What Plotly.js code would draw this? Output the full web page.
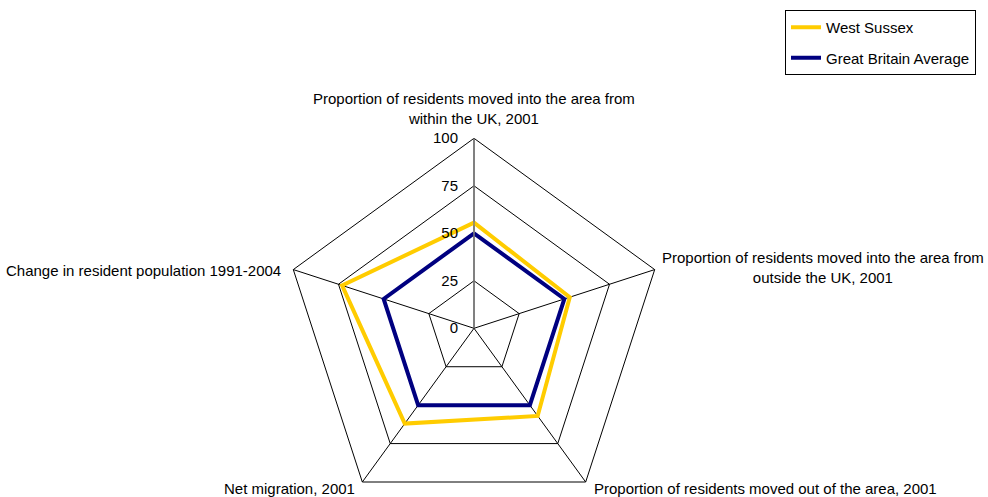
<!DOCTYPE html>
<html>
<head>
<meta charset="utf-8">
<script src="https://cdn.plot.ly/plotly-3.0.1.min.js"></script>
<style>
html, body { margin: 0; padding: 0; overflow: hidden; background: #fff; }
#chart { width: 988px; height: 600px; }
</style>
</head>
<body>
<div id="chart"></div>
<script>
var categories = [
  "Proportion of residents moved into the area from<br>within the UK, 2001",
  "Proportion of residents moved into the area from<br>outside the UK, 2001",
  "Proportion of residents moved out of the area, 2001",
  "Net migration, 2001",
  "Change in resident population 1991-2004"
];
var westSussex = [55.6, 53, 57, 62, 73];
var gbAverage = [50, 50, 50, 50, 50];
var radialTicks = [0, 25, 50, 75, 100];
var seriesNames = ["West Sussex", "Great Britain Average"];

var W = 988, H = 600;
var FONT = "Liberation Sans, Arial, sans-serif";
var FS = 15;
function px(x) { return x / W; }
function py(y) { return 1 - y / H; }
function closeLoop(a) { return a.concat([a[0]]); }

var traces = [
  {
    type: "scatterpolar", mode: "lines", name: seriesNames[0], legendgroup: "a",
    r: closeLoop(westSussex), theta: closeLoop(categories),
    line: { color: "#FFCC00", width: 4 }, hoverinfo: "skip"
  },
  {
    type: "scatterpolar", mode: "lines", name: seriesNames[1], legendgroup: "b",
    r: closeLoop(gbAverage), theta: closeLoop(categories),
    line: { color: "#000080", width: 4 }, hoverinfo: "skip"
  }
];

var labelPos = [
  { x: 474, y: 129, xa: "center", ya: "bottom" },
  { x: 660, y: 267, xa: "left", ya: "middle" },
  { x: 592, y: 488, xa: "left", ya: "middle" },
  { x: 357, y: 488, xa: "right", ya: "middle" },
  { x: 283, y: 270, xa: "right", ya: "middle" }
];
var annotations = categories.map(function (c, i) {
  var p = labelPos[i];
  return {
    text: c, xref: "paper", yref: "paper", x: px(p.x), y: py(p.y),
    xanchor: p.xa, yanchor: p.ya, align: "center", showarrow: false,
    font: { family: FONT, size: FS, color: "#000" }
  };
});

var layout = {
  width: W, height: H,
  margin: { l: 0, r: 0, t: 0, b: 0 },
  paper_bgcolor: "#fff",
  font: { family: FONT, size: FS, color: "#000" },
  showlegend: true,
  legend: {
    x: px(785), y: py(10), xanchor: "left", yanchor: "top",
    bordercolor: "#000", borderwidth: 1, bgcolor: "#fff",
    itemwidth: 30, tracegroupgap: 8,
    font: { family: FONT, size: FS, color: "#000" }
  },
  polar: {
    domain: { x: [px(284), px(664)], y: [py(518.3), py(138.3)] },
    gridshape: "linear",
    bgcolor: "rgba(0,0,0,0)",
    radialaxis: {
      range: [0, 100], tickvals: radialTicks, ticktext: radialTicks.map(String),
      angle: 90, side: "counterclockwise", tickangle: 90,
      showline: true, linecolor: "#808080", linewidth: 1.5,
      gridcolor: "#000", gridwidth: 1,
      ticks: "outside", ticklen: 10, tickcolor: "rgba(0,0,0,0)",
      tickfont: { family: FONT, size: FS, color: "#000" }
    },
    angularaxis: {
      rotation: 90, direction: "clockwise",
      showticklabels: false, ticks: "",
      showline: true, linecolor: "#000", linewidth: 1,
      gridcolor: "#000", gridwidth: 1
    }
  },
  annotations: annotations
};

Plotly.newPlot("chart", traces, layout, { displayModeBar: false, staticPlot: true });
</script>
</body>
</html>
